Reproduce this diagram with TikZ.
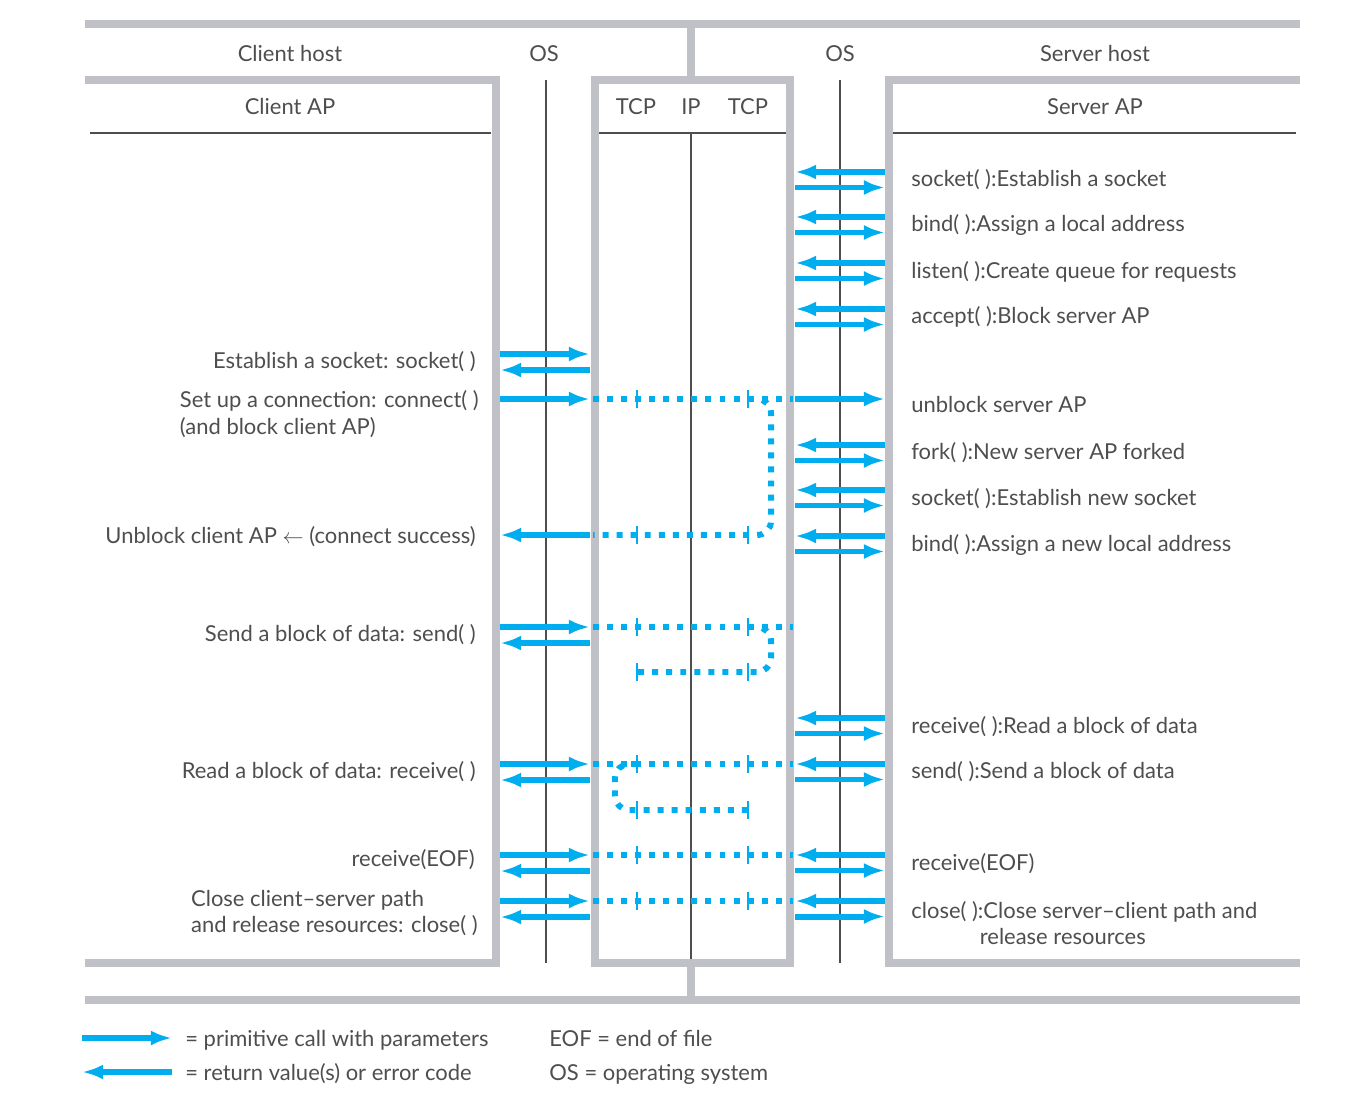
\documentclass[tikz,border=0pt]{standalone}
\usepackage{fontspec}
\setmainfont{Lato}
\usetikzlibrary{arrows.meta, positioning, calc}
\definecolor{callblue}{RGB}{0, 174, 239}
\definecolor{framegray}{RGB}{192, 193, 198}
\definecolor{labelgray}{RGB}{78, 78, 80}

\begin{document}
\begin{tikzpicture}[x=0.02cm, y=-0.02cm,
  frame/.style={line width=4.5pt, framegray},
  sepline/.style={line width=0.8pt, labelgray},
  call/.style={line width=3.4pt, callblue, -{Latex[length=12pt, width=8.5pt]}},
  ret/.style={line width=3.4pt, callblue, {Latex[length=12pt, width=8.5pt]}-},
  dots/.style={line width=3.4pt, callblue, dash pattern=on 3.4pt off 4.6pt, rounded corners=8pt},
  segmark/.style={line width=1.1pt, callblue},
  lbl/.style={font=\fontsize{12.5}{15.3}\selectfont, text=labelgray, inner sep=0pt},
  lhs/.style={lbl, anchor=east, align=left},
  rhs/.style={lbl, anchor=west, align=left}]
  \useasboundingbox (0,0) rectangle (1354,1098);

  % Frames
  \draw[frame] (85,24) -- (1300,24);
  \draw[frame] (691,24) -- (691,80);
  \draw[frame] (85,80) -- (496,80) -- (496,963) -- (85,963);
  \draw[frame] (595,80) rectangle (790,963);
  \draw[frame] (1300,80) -- (889,80) -- (889,963) -- (1300,963);
  \draw[frame] (691,963) -- (691,1000);
  \draw[frame] (85,1000) -- (1300,1000);

  % Separator lines
  \draw[sepline] (90,133) -- (491,133);
  \draw[sepline] (599,133) -- (786,133);
  \draw[sepline] (893,133) -- (1296,133);
  \draw[sepline] (691,133) -- (691,959);
  \draw[sepline] (546,80) -- (546,963);
  \draw[sepline] (840,80) -- (840,963);

  % Headings
  \node[lbl] (chost) at (290,54) {Client host};
  \node[lbl] (cos) at (544,54) {OS};
  \node[lbl] (sos) at (840,54) {OS};
  \node[lbl] (shost) at (1095,54) {Server host};
  \node[lbl] (cap) at (290,107) {Client AP};
  \node[lbl] (tcpc) at (636,107) {TCP};
  \node[lbl] (ip) at (691,107) {IP};
  \node[lbl] (tcps) at (748,107) {TCP};
  \node[lbl] (sap) at (1095,107) {Server AP};

  % Client primitives
  \node[lhs] (csock) at (476,362) {Establish a socket: socket( )};
  \node[lhs] (cconn) at (479,414) {Set up a connection: connect( )\\(and block client AP)};
  \node[lhs] (cunbl) at (476,537) {Unblock client AP $\leftarrow$ (connect success)};
  \node[lhs] (csend) at (476,635) {Send a block of data: send( )};
  \node[lhs] (crecv) at (476,772) {Read a block of data: receive( )};
  \node[lhs] (ceof) at (475,860) {receive(EOF)};
  \node[lhs] (cclose) at (478,913) {Close client--server path\\and release resources: close( )};

  % Server primitives
  \node[rhs] (ssock) at (911,180) {socket( ):Establish a socket};
  \node[rhs] (sbind) at (911,225) {bind( ):Assign a local address};
  \node[rhs] (slist) at (911,272) {listen( ):Create queue for requests};
  \node[rhs] (sacc) at (911,317) {accept( ):Block server AP};
  \node[rhs] (sunbl) at (911,404) {unblock server AP};
  \node[rhs] (sfork) at (911,453) {fork( ):New server AP forked};
  \node[rhs] (snsock) at (911,499) {socket( ):Establish new socket};
  \node[rhs] (snbind) at (911,545) {bind( ):Assign a new local address};
  \node[rhs] (srecv) at (911,727) {receive( ):Read a block of data};
  \node[rhs] (ssend) at (911,772) {send( ):Send a block of data};
  \node[rhs] (seof) at (911,864) {receive(EOF)};
  \node[rhs] (sclose) at (911,923) {close( ):Close server--client path and\\\hspace*{39pt}release resources};

  % Calls and returns, client side
  \foreach \y in {354,627,764,855,901} {
    \draw[call] (500,\y) -- (590,\y);
    \draw[ret] (500,\y+16) -- (590,\y+16);
  }
  \draw[call] (500,399) -- (590,399);
  \draw[ret] (500,535) -- (590,535);

  % Calls and returns, server side
  \foreach \y in {172,217,263,309,445,490,536,718,764,855,901} {
    \draw[ret] (795,\y) -- (885,\y);
    \draw[call] (795,\y+15.5) -- (885,\y+15.5);
  }
  \draw[call] (795,399) -- (885,399);

  % Segments through TCP/IP
  \foreach \y in {399,627,764,855,901}
    \draw[dots] (593,\y) -- (793,\y);
  \draw[dots] (748,399) -- (771,399) -- (771,535) -- (593,535);
  \draw[dots] (748,627) -- (771,627) -- (771,672) -- (637,672);
  \draw[dots] (637,764) -- (615,764) -- (615,810) -- (748,810);
  \foreach \y in {399,535,627,672,764,810,855,901} {
    \draw[segmark] (637,\y-9) -- (637,\y+9);
    \draw[segmark] (748,\y-9) -- (748,\y+9);
  }

  % Legend
  \draw[call] (82,1038) -- (172,1038);
  \draw[ret] (82,1072) -- (172,1072);
  \node[rhs] (kcall) at (185,1040) {= primitive call with parameters};
  \node[rhs] (kret) at (185,1074) {= return value(s) or error code};
  \node[rhs] (keof) at (549,1038) {EOF = end of file};
  \node[rhs] (kos) at (549,1074) {OS = operating system};
\end{tikzpicture}
\end{document}
